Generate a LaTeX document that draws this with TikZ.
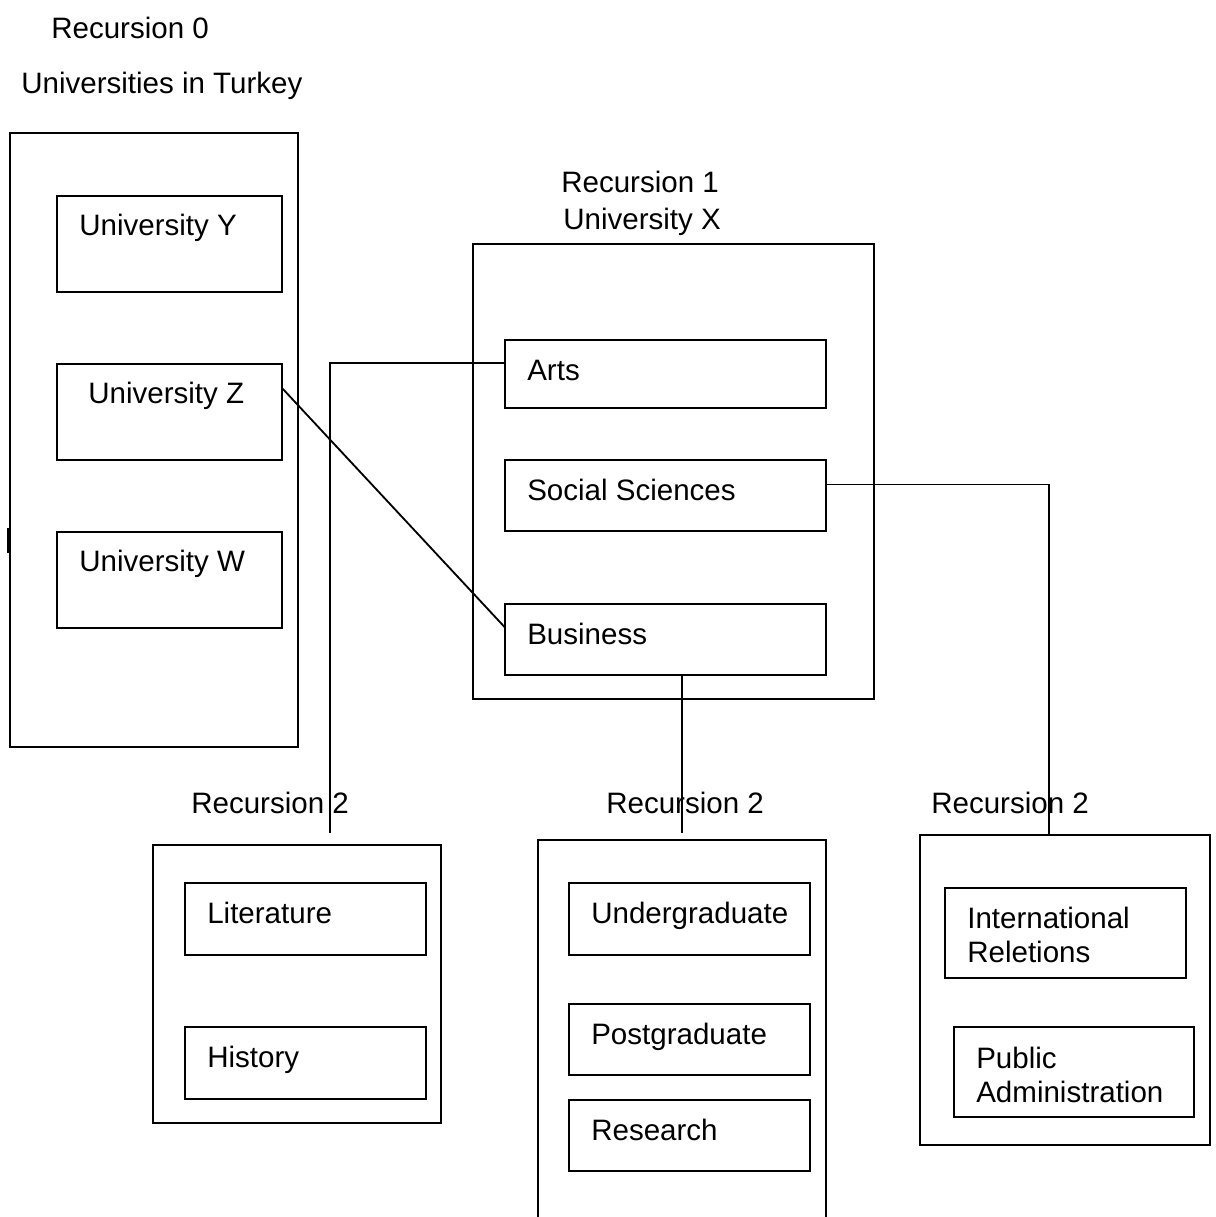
\documentclass[tikz,border=0pt]{standalone}
\usepackage{fontspec}
\setmainfont{Liberation Sans}
\usetikzlibrary{positioning,calc}

\begin{document}
\begin{tikzpicture}[x=0.025cm,y=-0.025cm]
            \tikzset{
                box/.style={draw, line width=1.3pt, inner sep=0pt, outer sep=0pt},
                lbl/.style={anchor=base west, inner sep=0pt, font=\fontsize{21}{25}\selectfont},
                conn/.style={line width=1.3pt},}
            \def\u{0.025cm}
            \useasboundingbox (0,0) rectangle (1216,1217);
            % recursion 0
            \node[lbl] (rec0) at (51,38) {Recursion 0};
            \node[lbl] (turkeyname) at (21,93) {Universities in Turkey};
            \node[box, minimum width=288*\u, minimum height=614*\u] (turkey) at (154,440) {};
            \draw [line width=1.6pt] (8.5,528) -- (8.5,553);
            \node[box, minimum width=225*\u, minimum height=96*\u] (uniY) at (169.5,244) {};
            \node[box, minimum width=225*\u, minimum height=96*\u] (uniZ) at (169.5,412) {};
            \node[box, minimum width=225*\u, minimum height=96*\u] (uniW) at (169.5,580) {};
            \node[lbl] (uniYname) at ($(uniY.north west)+(22,39)$) {University Y};
            \node[lbl] (uniZname) at ($(uniZ.north west)+(31,39)$) {University Z};
            \node[lbl] (uniWname) at ($(uniW.north west)+(22,39)$) {University W};
            % recursion 1
            \node[lbl] (rec1) at (561,192) {Recursion 1};
            \node[lbl] (uniXname) at (563,229) {University X};
            \node[box, minimum width=401*\u, minimum height=455*\u] (uniX) at (673.5,471.5) {};
            \node[box, minimum width=321*\u, minimum height=68*\u] (arts) at (665.5,374) {};
            \node[box, minimum width=321*\u, minimum height=71*\u] (social) at (665.5,495.5) {};
            \node[box, minimum width=321*\u, minimum height=71*\u] (business) at (665.5,639.5) {};
            \node[lbl] (artsname) at ($(arts.north west)+(22,40)$) {Arts};
            \node[lbl] (socialname) at ($(social.north west)+(22,40)$) {Social Sciences};
            \node[lbl] (businessname) at ($(business.north west)+(22,40)$) {Business};
            % recursion 2
            \node[lbl] (rec2a) at (191,813) {Recursion 2};
            \node[lbl] (rec2b) at (606,813) {Recursion 2};
            \node[lbl] (rec2c) at (931,813) {Recursion 2};
            \node[box, minimum width=288*\u, minimum height=278*\u] (artsdep) at (297,984) {};
            \node[box, minimum width=241*\u, minimum height=72*\u] (lit) at (305.5,919) {};
            \node[box, minimum width=241*\u, minimum height=72*\u] (hist) at (305.5,1063) {};
            \node[lbl] (litname) at ($(lit.north west)+(22,40)$) {Literature};
            \node[lbl] (histname) at ($(hist.north west)+(22,40)$) {History};
            \draw [line width=1.3pt] (538,1217) -- (538,840) -- (826,840) -- (826,1217);
            \node[box, minimum width=241*\u, minimum height=72*\u] (under) at (689.5,919) {};
            \node[box, minimum width=241*\u, minimum height=71*\u] (post) at (689.5,1039.5) {};
            \node[box, minimum width=241*\u, minimum height=71*\u] (research) at (689.5,1135.5) {};
            \node[lbl] (undername) at ($(under.north west)+(22,40)$) {Undergraduate};
            \node[lbl] (postname) at ($(post.north west)+(22,40)$) {Postgraduate};
            \node[lbl] (researchname) at ($(research.north west)+(22,40)$) {Research};
            \node[box, minimum width=290*\u, minimum height=310*\u] (socialdep) at (1065,990) {};
            \node[box, minimum width=241*\u, minimum height=90*\u] (intl) at (1065.5,933) {};
            \node[box, minimum width=240*\u, minimum height=90*\u] (pub) at (1074,1072) {};
            \node[lbl] (intlname) at ($(intl.north west)+(22,40)$) {International};
            \node[lbl] (intlname2) at ($(intlname.base west)+(0,34)$) {Reletions};
            \node[lbl] (pubname) at ($(pub.north west)+(22,41)$) {Public};
            \node[lbl] (pubname2) at ($(pubname.base west)+(0,34)$) {Administration};
            % links
            \coordinate (artsend) at (330,833);
            \coordinate (businessend) at (682,833);
            \coordinate (socialend) at (1049,835);
            \draw [conn] ($(arts.west)+(0,-11)$) -| (artsend);
            \draw [conn] ($(uniZ.east)+(0,-24)$) -- ($(business.west)+(0,-12)$);
            \draw [conn] ($(social.east)+(0,-11)$) -| (socialend);
            \draw [conn] (business.south -| businessend) -- (businessend);
        \end{tikzpicture}
\end{document}
